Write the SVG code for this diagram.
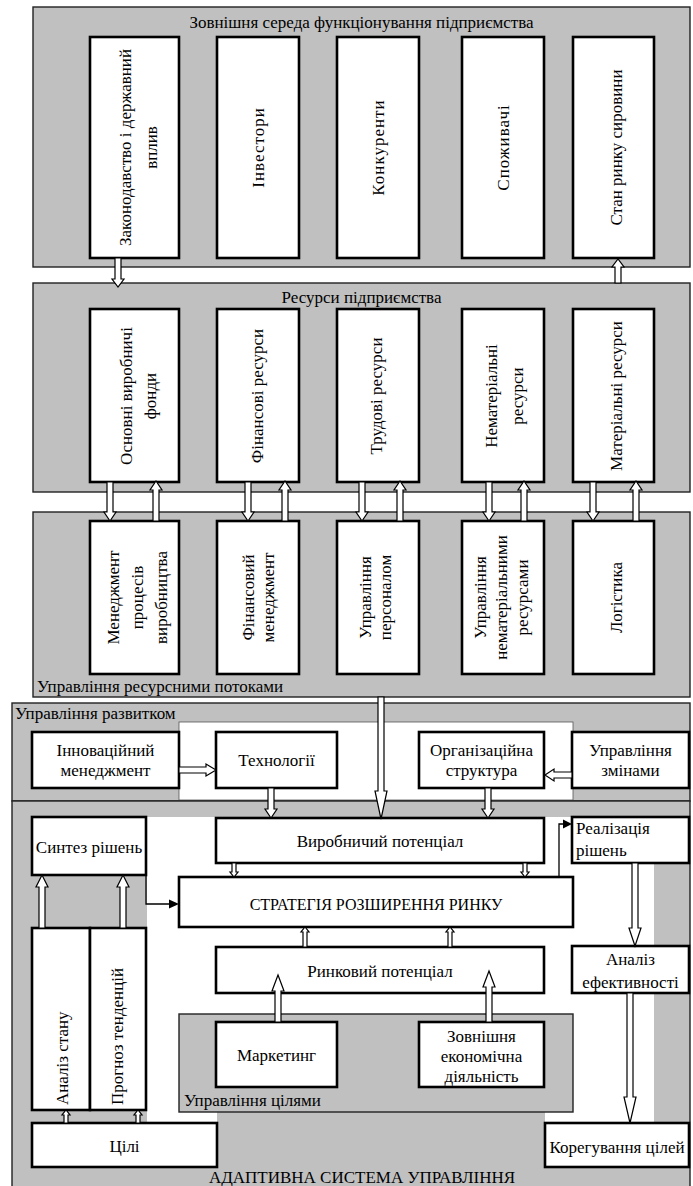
<svg xmlns="http://www.w3.org/2000/svg" width="693" height="1186" viewBox="0 0 693 1186" font-family="'Liberation Serif', 'DejaVu Serif', serif">
<style>
.pn{fill:#c0c0c0;stroke:#222;stroke-width:1.4}
.bx{fill:#fff;stroke:#000;stroke-width:2.6}
.wh{fill:#fff;stroke:none}
.t{font-family:'Liberation Serif','DejaVu Serif',serif;font-size:17px;fill:#000}
.c{text-anchor:middle}
.sp{letter-spacing:1px}
.ba{fill:#fff;stroke:#000;stroke-width:1.2;stroke-linejoin:miter}
.ln{fill:none;stroke:#000;stroke-width:1.3}
.hd{fill:#000;stroke:none}
</style>

<!-- Panel 1 -->
<g id="panel-env">
<rect class="pn" x="33" y="7" width="657" height="260"/>
<text class="t c" x="361.5" y="28">Зовнішня середа функціонування підприємства</text>
</g>
<g id="n-law"><rect class="bx" x="90" y="37" width="89" height="221"/>
<text class="t c" transform="translate(131,147.5) rotate(-90)">Законодавство і державний</text>
<text class="t c" transform="translate(157,147.5) rotate(-90)">вплив</text></g>
<g id="n-investors"><rect class="bx" x="217" y="37" width="82" height="221"/>
<text class="t c sp" transform="translate(264,147.5) rotate(-90)">Інвестори</text></g>
<g id="n-competitors"><rect class="bx" x="337" y="37" width="82" height="221"/>
<text class="t c sp" transform="translate(384,147.5) rotate(-90)">Конкуренти</text></g>
<g id="n-consumers"><rect class="bx" x="462" y="37" width="82" height="221"/>
<text class="t c sp" transform="translate(509,147.5) rotate(-90)">Споживачі</text></g>
<g id="n-rawmarket"><rect class="bx" x="573" y="37" width="81" height="221"/>
<text class="t c" transform="translate(622,147.5) rotate(-90)">Стан ринку сировини</text></g>

<!-- Panel 2 -->
<g id="panel-resources">
<rect class="pn" x="33" y="283" width="657" height="209"/>
<text class="t c" x="361.5" y="303">Ресурси підприємства</text>
</g>
<g id="n-funds"><rect class="bx" x="90" y="309" width="89" height="173"/>
<text class="t c" transform="translate(132,396) rotate(-90)">Основні виробничі</text>
<text class="t c" transform="translate(156,396) rotate(-90)">фонди</text></g>
<g id="n-finres"><rect class="bx" x="217" y="309" width="82" height="173"/>
<text class="t c" transform="translate(263,396) rotate(-90)">Фінансові ресурси</text></g>
<g id="n-labour"><rect class="bx" x="337" y="309" width="82" height="173"/>
<text class="t c" transform="translate(382,396) rotate(-90)">Трудові ресурси</text></g>
<g id="n-intang"><rect class="bx" x="462" y="309" width="82" height="173"/>
<text class="t c" transform="translate(497,396) rotate(-90)">Нематеріальні</text>
<text class="t c" transform="translate(523,396) rotate(-90)">ресурси</text></g>
<g id="n-material"><rect class="bx" x="573" y="309" width="81" height="173"/>
<text class="t c" transform="translate(622,396) rotate(-90)">Матеріальні ресурси</text></g>

<!-- Panel 3 -->
<g id="panel-flows">
<rect class="pn" x="33" y="512" width="657" height="185"/>
<text class="t" x="37" y="692">Управління ресурсними потоками</text>
</g>
<g id="n-prodmgmt"><rect class="bx" x="90" y="521" width="89" height="153"/>
<text class="t c" transform="translate(119,597.5) rotate(-90)">Менеджмент</text>
<text class="t c" transform="translate(143,597.5) rotate(-90)">процесів</text>
<text class="t c" transform="translate(167,597.5) rotate(-90)">виробництва</text></g>
<g id="n-finmgmt"><rect class="bx" x="217" y="521" width="82" height="153"/>
<text class="t c" transform="translate(254,597.5) rotate(-90)">Фінансовий</text>
<text class="t c" transform="translate(274,597.5) rotate(-90)">менеджмент</text></g>
<g id="n-hr"><rect class="bx" x="337" y="521" width="82" height="153"/>
<text class="t c" transform="translate(371,597.5) rotate(-90)">Управління</text>
<text class="t c" transform="translate(391,597.5) rotate(-90)">персоналом</text></g>
<g id="n-intangmgmt"><rect class="bx" x="462" y="521" width="82" height="153"/>
<text class="t c" transform="translate(486,597.5) rotate(-90)">Управління</text>
<text class="t c" transform="translate(507,597.5) rotate(-90)">нематеріальними</text>
<text class="t c" transform="translate(528,597.5) rotate(-90)">ресурсами</text></g>
<g id="n-logistics"><rect class="bx" x="573" y="521" width="81" height="153"/>
<text class="t c" transform="translate(622,597.5) rotate(-90)">Логістика</text></g>

<!-- Development panel -->
<g id="panel-development">
<rect class="pn" x="12" y="703" width="678" height="98"/>
<rect x="179" y="722" width="394" height="78" fill="#fff" stroke="#555" stroke-width="0.8"/>
<text class="t" x="15" y="719">Управління развитком</text>
</g>
<g id="n-innov"><rect class="bx" x="32" y="732" width="147" height="56"/>
<text class="t c" x="105.5" y="756">Інноваційний</text>
<text class="t c" x="105.5" y="776">менеджмент</text></g>
<g id="n-tech"><rect class="bx" x="216" y="732" width="121" height="56"/>
<text class="t c" x="276.5" y="766">Технології</text></g>
<g id="n-org"><rect class="bx" x="419" y="732" width="125" height="56"/>
<text class="t c" x="481.5" y="756">Організаційна</text>
<text class="t c" x="481.5" y="776">структура</text></g>
<g id="n-change"><rect class="bx" x="572" y="732" width="117" height="56"/>
<text class="t c" x="630.5" y="756">Управління</text>
<text class="t c" x="630.5" y="776">змінами</text></g>

<!-- Adaptive system panel -->
<g id="panel-adaptive">
<rect class="pn" x="12" y="801" width="678" height="390"/>
<polygon class="wh" points="147,817 654,817 654,1123 545,1123 545,1112 217,1112 217,1123 147,1123"/>
<text class="t c" x="362" y="1183">АДАПТИВНА СИСТЕМА УПРАВЛІННЯ</text>
</g>
<g id="n-synth"><rect class="bx" x="32" y="817" width="114" height="58"/>
<text class="t c" x="89" y="853">Синтез рішень</text></g>
<g id="n-prodpot"><rect class="bx" x="216" y="818" width="328" height="45"/>
<text class="t c" x="380" y="847">Виробничий потенціал</text></g>
<g id="n-strategy"><rect class="bx" x="179" y="877" width="394" height="50"/>
<text class="t c" x="376" y="910" style="font-size:16px">СТРАТЕГІЯ РОЗШИРЕННЯ РИНКУ</text></g>
<g id="n-impl"><rect class="bx" x="572" y="817" width="117" height="46"/>
<text class="t" x="576" y="834">Реалізація</text>
<text class="t" x="576" y="856">рішень</text></g>
<g id="n-state"><rect class="bx" x="32" y="928" width="58" height="182"/>
<text class="t" transform="translate(67.5,1105) rotate(-90)">Аналіз стану</text></g>
<g id="n-forecast"><rect class="bx" x="90" y="928" width="56" height="182"/>
<text class="t" transform="translate(123,1105) rotate(-90)">Прогноз тенденцій</text></g>
<g id="n-marketpot"><rect class="bx" x="216" y="947" width="328" height="46"/>
<text class="t c" x="380" y="977">Ринковий потенціал</text></g>
<g id="n-effic"><rect class="bx" x="572" y="946" width="117" height="47"/>
<text class="t c" x="630.5" y="965">Аналіз</text>
<text class="t c" x="630.5" y="988">ефективності</text></g>
<g id="panel-goals">
<rect class="pn" x="179" y="1014" width="394" height="98"/>
<text class="t" x="184" y="1106">Управління цілями</text>
</g>
<g id="n-marketing"><rect class="bx" x="216" y="1022" width="121" height="65"/>
<text class="t c" x="276.5" y="1061">Маркетинг</text></g>
<g id="n-foreign"><rect class="bx" x="419" y="1022" width="125" height="65"/>
<text class="t c" x="481.5" y="1042">Зовнішня</text>
<text class="t c" x="481.5" y="1062">економічна</text>
<text class="t c" x="481.5" y="1082">діяльність</text></g>
<g id="n-goals"><rect class="bx" x="32" y="1123" width="185" height="44"/>
<text class="t c" x="124.5" y="1152">Цілі</text></g>
<g id="n-correct"><rect class="bx" x="545" y="1123" width="144" height="44"/>
<text class="t c" x="617" y="1153">Корегування цілей</text></g>

<!-- Connectors -->
<g id="connectors">
<path class="ba" d="M115 258 V279 H112 L118 287 L124 279 H121 V258 Z"/>
<path class="ba" d="M615 283 V267 H612 L618 259 L624 267 H621 V283 Z"/>

<path class="ba" d="M107 482 V512 H104 L110 521 L116 512 H113 V482 Z"/>
<path class="ba" d="M153 521 V490 H150 L156 481 L162 490 H159 V521 Z"/>
<path class="ba" d="M245 482 V512 H242 L248 521 L254 512 H251 V482 Z"/>
<path class="ba" d="M282 521 V490 H279 L285 481 L291 490 H288 V521 Z"/>
<path class="ba" d="M359 482 V512 H356 L362 521 L368 512 H365 V482 Z"/>
<path class="ba" d="M397 521 V490 H394 L400 481 L406 490 H403 V521 Z"/>
<path class="ba" d="M486 482 V512 H483 L489 521 L495 512 H492 V482 Z"/>
<path class="ba" d="M521 521 V490 H518 L524 481 L530 490 H527 V521 Z"/>
<path class="ba" d="M590 482 V512 H587 L593 521 L599 512 H596 V482 Z"/>
<path class="ba" d="M633 521 V490 H630 L636 481 L642 490 H639 V521 Z"/>

<path class="ba" d="M378 697 V791 H375 L381 819 L387 791 H384 V697 Z"/>

<path class="ba" d="M179 767 H206 V764 L216 770 L206 776 V773 H179 Z"/>
<path class="ba" d="M572 772 H554 V769 L545 775 L554 781 V778 H572 Z"/>
<path class="ba" d="M268 788 V809 H265 L271 818 L277 809 H274 V788 Z"/>
<path class="ba" d="M485 788 V809 H482 L488 818 L494 809 H491 V788 Z"/>

<path class="ba" d="M232 863 V872 H230 L234 877 L238 872 H236 V863 Z"/>
<path class="ba" d="M523 863 V872 H521 L525 877 L529 872 H527 V863 Z"/>
<path class="ba" d="M303 947 V932 H301 L305 927 L309 932 H307 V947 Z"/>
<path class="ba" d="M448 947 V932 H446 L450 927 L454 932 H452 V947 Z"/>

<path class="ba" d="M275 1022 V991 H272 L278 975 L284 991 H281 V1022 Z"/>
<path class="ba" d="M486 1022 V987 H483 L489 971 L495 987 H492 V1022 Z"/>

<path class="ba" d="M39 928 V887 H36 L42 875 L48 887 H45 V928 Z"/>
<path class="ba" d="M120 928 V887 H117 L123 875 L129 887 H126 V928 Z"/>
<path class="ba" d="M64 1123 V1115 H62 L66 1110 L70 1115 H68 V1123 Z"/>
<path class="ba" d="M136 1123 V1115 H134 L138 1110 L142 1115 H140 V1123 Z"/>

<path class="ba" d="M632 863 V928 H629 L635 946 L641 928 H638 V863 Z"/>
<path class="ba" d="M627 993 V1097 H624 L630 1123 L636 1097 H633 V993 Z"/>

<polyline class="ln" points="146,875 146,904 170,904"/>
<polygon class="hd" points="169,899.5 179,904 169,908.5"/>
<polyline class="ln" points="559,877 559,824 564,824"/>
<polygon class="hd" points="563,819.5 572,824 563,828.5"/>
</g>
</svg>
